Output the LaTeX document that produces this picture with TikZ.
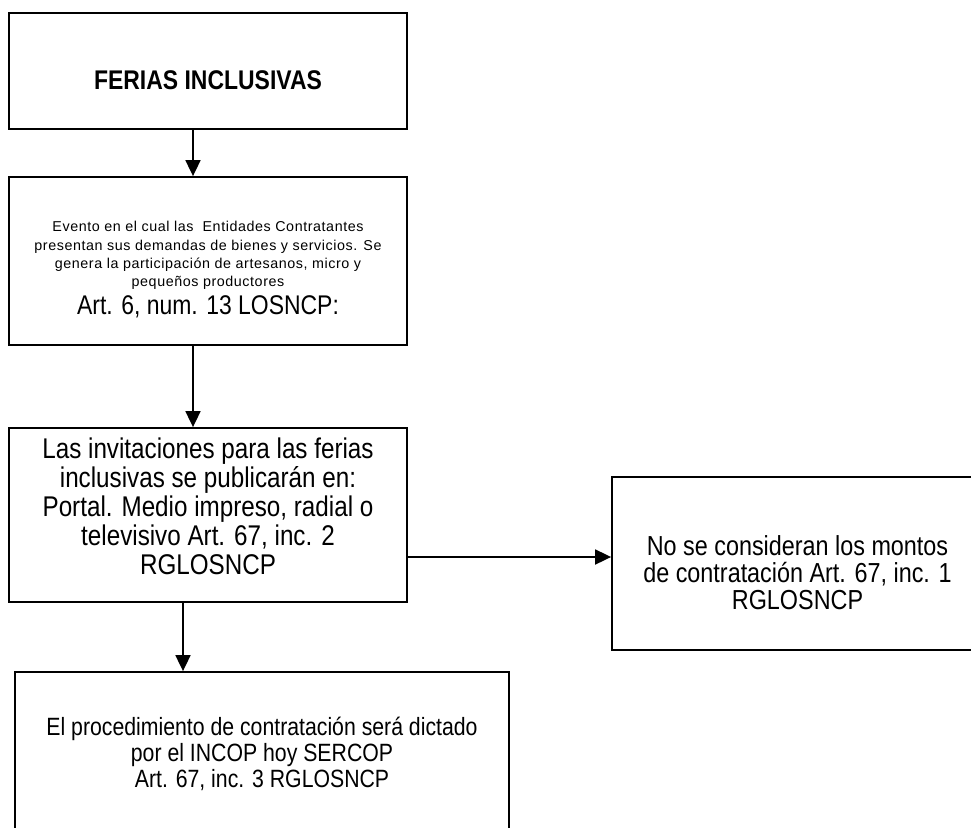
\documentclass[tikz,border=0pt]{standalone}
\usepackage{fontspec}
\setmainfont{Liberation Sans}[FakeStretch=0.85]
\newfontfamily\spacedsf{Liberation Sans}[LetterSpace=4]
\usetikzlibrary{arrows.meta}
\begin{document}
\begin{tikzpicture}[>={Triangle[length=16pt,width=15pt]},x=1pt,y=-1pt,line width=1.8pt,color=black,
	box/.style={draw,rectangle,inner sep=0pt,align=center},
	txt/.style={font=\fontsize{#1}{29}\selectfont}]
		\useasboundingbox (0,0) rectangle (971,827);
		\node[box,minimum width=398pt,minimum height=116pt,font=\fontsize{27}{29}\selectfont\bfseries] (ferias) at (208,71) {\rule{0pt}{38pt}FERIAS INCLUSIVAS};
		\node[box,minimum width=398pt,minimum height=168pt,font=\spacedsf\fontsize{14.3}{18.3}\selectfont] (evento) at (208,261)
		{\rule{0pt}{28pt}Evento en el cual las\ \ Entidades Contratantes\\
		presentan sus demandas de bienes y servicios. Se\\
		genera la participación de artesanos, micro y\\
		pequeños productores\\[5pt]
		{\rmfamily\fontsize{27}{29}\selectfont Art. 6, num. 13 LOSNCP:}};
		\node[box,minimum width=398pt,minimum height=174pt,txt=28.5] (invitaciones) at (208,515)
		{Las invitaciones para las ferias\\
		inclusivas se publicarán en:\\
		Portal. Medio impreso, radial o\\
		televisivo Art. 67, inc. 2\\
		RGLOSNCP\rule[-17pt]{0pt}{17pt}};
		\node[box,minimum width=371pt,minimum height=173pt,font=\fontsize{27.5}{27}\selectfont] (montos) at (797.5,563.5)
		{\rule{0pt}{39pt}No se consideran los montos\\
		de contratación Art. 67, inc. 1\\
		RGLOSNCP};
		\node[box,minimum width=494pt,minimum height=164pt,font=\fontsize{25}{26}\selectfont] (procedimiento) at (262,754)
		{El procedimiento de contratación será dictado\\
		por el INCOP hoy SERCOP\\
		Art. 67, inc. 3 RGLOSNCP};
		\draw[->] ([xshift=-15pt]ferias.south) -- ([xshift=-15pt]evento.north);
		\draw[->] ([xshift=-15pt]evento.south) -- ([xshift=-15pt]invitaciones.north);
		\draw[->] ([yshift=-42pt]invitaciones.east) -- ([yshift=-42pt]invitaciones.east -| montos.west);
		\draw[->] ([xshift=-25pt]invitaciones.south) -- ([xshift=-25pt]invitaciones.south |- procedimiento.north);
\end{tikzpicture}
\end{document}
